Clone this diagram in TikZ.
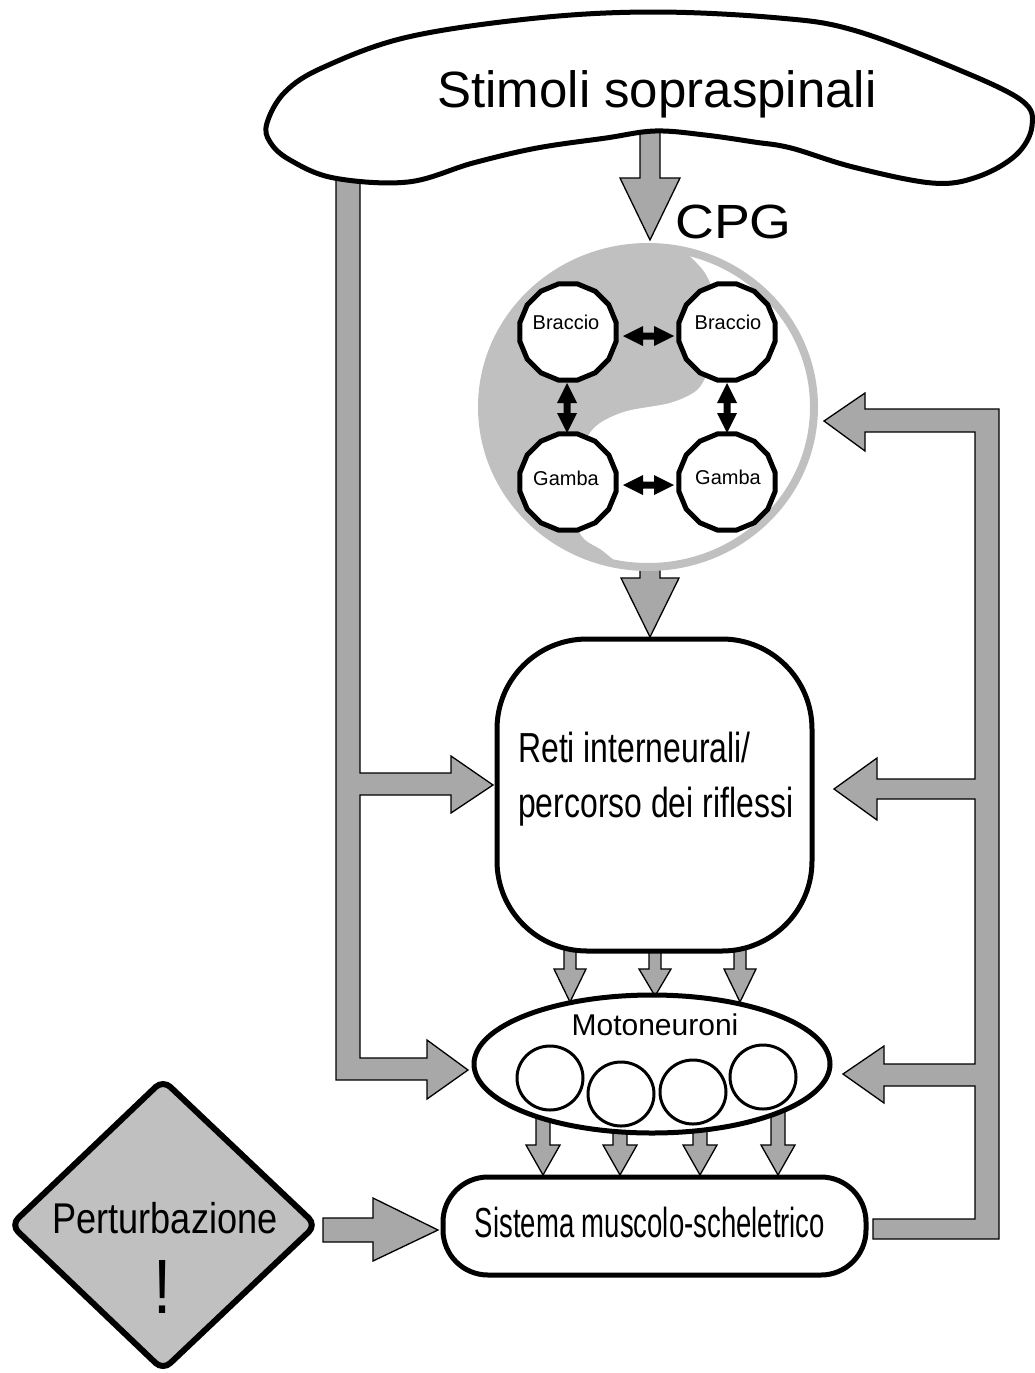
\documentclass[tikz,border=0pt]{standalone}
\usepackage{fontspec}
\setmainfont{Liberation Sans}
\usepackage{graphicx}
\usetikzlibrary{shapes.geometric}
\definecolor{arrowgray}{RGB}{168,168,168}
\definecolor{softgray}{RGB}{192,192,192}
\tikzset{
  fatarrow/.style={draw=black, line width=1.3pt, fill=arrowgray, line join=miter},
  thickline/.style={draw=black, line width=5pt, fill=white},
  cell/.style={regular polygon, regular polygon sides=16, draw=black, line width=5pt, fill=white, minimum size=98pt, inner sep=0pt},
  neuron/.style={ellipse, draw=black, line width=3pt, minimum width=66pt, minimum height=64pt, inner sep=0pt},
  small/.style={font=\fontsize{20}{20}\selectfont, anchor=base},
}
\newcommand{\fatdown}[6]{\filldraw[fatarrow] (#1-#5,#2) -- (#1+#5,#2) -- (#1+#5,#3) -- (#1+#6,#3) -- (#1,#4) -- (#1-#6,#3) -- (#1-#5,#3) -- cycle;}
\newcommand{\cpgdblh}[3]{\fill[black] (#1,#3) -- (#1+20,#3-10) -- (#1+20,#3-3.5) -- (#2-20,#3-3.5) -- (#2-20,#3-10) -- (#2,#3) -- (#2-20,#3+10) -- (#2-20,#3+3.5) -- (#1+20,#3+3.5) -- (#1+20,#3+10) -- cycle;}
\newcommand{\cpgdblv}[3]{\fill[black] (#1,#2) -- (#1-10,#2+20) -- (#1-3.5,#2+20) -- (#1-3.5,#3-20) -- (#1-10,#3-20) -- (#1,#3) -- (#1+10,#3-20) -- (#1+3.5,#3-20) -- (#1+3.5,#2+20) -- (#1+10,#2+20) -- cycle;}
\begin{document}
\begin{tikzpicture}[x=1pt, y=-1pt]
\useasboundingbox (0,0) rectangle (1035,1373);

% left feed path
\filldraw[fatarrow] (336,160) -- (360,160) -- (360,773) -- (451,773) -- (451,756) -- (493,785) -- (451,813) -- (451,795) -- (360,795) -- (360,1058) -- (427,1058) -- (427,1040) -- (468,1070) -- (427,1099) -- (427,1080) -- (336,1080) -- cycle;
% right feedback path
\filldraw[fatarrow] (999,409) -- (865,409) -- (865,393) -- (824,421) -- (865,451) -- (865,432) -- (975,432) -- (975,779) -- (877,779) -- (877,758) -- (834,789) -- (877,820) -- (877,799) -- (975,799) -- (975,1064) -- (884,1064) -- (884,1046) -- (843,1074) -- (884,1103) -- (884,1086) -- (975,1086) -- (975,1219) -- (873,1219) -- (873,1239) -- (999,1239) -- cycle;
% perturbation arrow
\filldraw[fatarrow] (323,1218) -- (373,1218) -- (373,1198) -- (438,1230) -- (373,1261) -- (373,1242) -- (323,1242) -- cycle;

% vertical arrows
\fatdown{650}{120}{178}{240}{10}{30}
\fatdown{650}{540}{578}{637}{10}{29}
\fatdown{570}{940}{969}{1002}{6}{16}
\fatdown{655}{940}{969}{996}{6}{16}
\fatdown{740}{940}{969}{1002}{6}{16}
\fatdown{543}{1110}{1145}{1175}{7}{17}
\fatdown{620}{1110}{1145}{1175}{7}{17}
\fatdown{700}{1110}{1145}{1175}{7}{17}
\fatdown{778}{1110}{1145}{1175}{7}{17}

% supraspinal blob
\filldraw[thickline] plot[smooth cycle, tension=0.6] coordinates {(267,123) (285,92) (324,67) (408,37) (537,18) (655,12) (779,18) (853,30) (952,67) (1021,100) (1032,126) (1016,155) (977,177) (932,183) (853,167) (791,148) (754,142) (705,135) (655,131) (606,138) (537,148) (473,163) (408,182) (334,178) (290,160) (270,142)};
\node[font=\fontsize{51}{51}\selectfont, anchor=base] (stim) at (657,107) {Stimoli sopraspinali};
\node[font=\fontsize{48}{48}\selectfont, anchor=base west, inner sep=0pt] (cpglabel) at (675,238) {\scalebox{1.12}[1]{CPG}};

% CPG disc
\node[ellipse, minimum width=332pt, minimum height=320pt, inner sep=0pt] (cpg) at (648,407) {};
\fill[softgray] (648,407) ellipse [x radius=166, y radius=160];
\begin{scope}
  \clip (648,407) ellipse [x radius=166, y radius=160];
  \fill[white] plot[smooth] coordinates {(678,245) (703,270) (712,292) (711,340) (707,373) (696,391) (670,403) (627,411) (600,423) (586,440) (575,482) (580,533) (603,551) (632,575)} -- (900,580) -- (900,240) -- cycle;
\end{scope}
\draw[softgray, line width=8pt] (648,407) ellipse [x radius=166, y radius=160];

\node[cell] (b1) at (568,332) {};
\node[cell] (b2) at (727,332) {};
\node[cell] (g1) at (568,482) {};
\node[cell] (g2) at (727,482) {};
\node[small] (b1t) at (566,329) {Braccio};
\node[small] (b2t) at (728,329) {Braccio};
\node[small] (g1t) at (566,485) {Gamba};
\node[small] (g2t) at (728,484) {Gamba};
\cpgdblh{623}{674}{336}
\cpgdblh{623}{674}{485}
\cpgdblv{567}{383}{433}
\cpgdblv{727}{383}{433}

% interneuronal networks
\node[thickline, rounded corners=90pt, minimum width=315pt, minimum height=312pt] (reti) at (654.5,795) {};
\node[font=\fontsize{42}{42}\selectfont, anchor=base west, inner sep=0pt] (reti1) at (518,762) {\scalebox{0.76}[1]{Reti interneurali/}};
\node[font=\fontsize{42}{42}\selectfont, anchor=base west, inner sep=0pt] (reti2) at (518,817) {\scalebox{0.76}[1]{percorso dei riflessi}};

% motoneurons
\node[ellipse, draw=black, line width=5pt, fill=white, minimum width=356pt, minimum height=138pt, inner sep=0pt] (moto) at (652,1064) {};
\node[font=\fontsize{30}{30}\selectfont, anchor=base] (mototext) at (655,1035) {Motoneuroni};
\node[neuron] (n1) at (550,1078) {};
\node[neuron] (n2) at (621,1094) {};
\node[neuron] (n3) at (693,1092) {};
\node[neuron] (n4) at (763,1077) {};

% musculoskeletal system
\node[thickline, rounded corners=45pt, minimum width=423pt, minimum height=98pt] (sist) at (654.5,1226) {};
\node[font=\fontsize{42}{42}\selectfont, anchor=base] (sisttext) at (650,1237) {\scalebox{0.655}[1]{Sistema muscolo-scheletrico}};

% perturbation
\filldraw[draw=black, line width=6pt, fill=softgray, rounded corners=10pt] (163,1080) -- (316,1225) -- (163,1370) -- (11,1225) -- cycle;
\node[font=\fontsize{43}{43}\selectfont, anchor=base] (pert) at (165,1233) {\scalebox{0.84}[1]{Perturbazione}};
\node[font=\fontsize{77}{77}\selectfont, anchor=base] (excl) at (163,1313) {\scalebox{0.85}[1]{!}};
\end{tikzpicture}
\end{document}
